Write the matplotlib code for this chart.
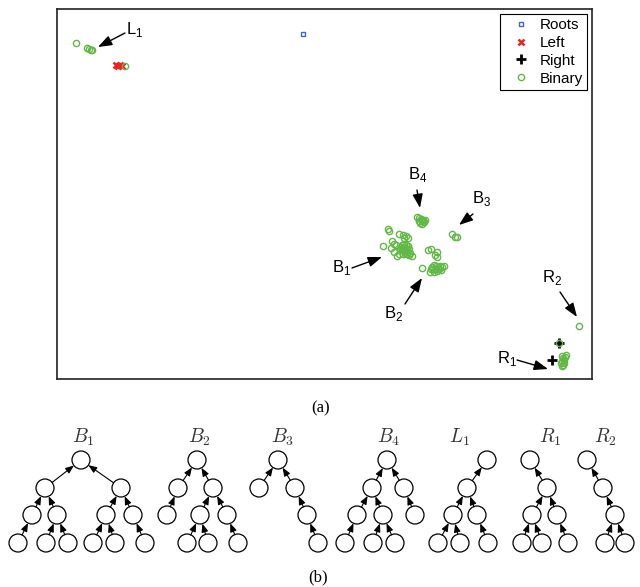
import matplotlib
matplotlib.use('Agg')
import matplotlib.pyplot as plt
from matplotlib.patches import Circle, FancyArrowPatch

plt.rcParams['font.family'] = ['Liberation Sans', 'DejaVu Sans']

# embedding coordinates (image pixel units)
roots_x = [303]
roots_y = [34]
left_x = [116, 118, 120, 122]
left_y = [65, 66, 65, 66]
right_x = [559, 552]
right_y = [343, 360]
binary_x = [76, 87, 89, 91, 92, 125,
            417, 419, 421, 422, 424, 420, 422, 423, 419, 425,
            452, 455, 457,
            388, 389, 399, 403, 406, 408, 404, 383, 392, 394, 396, 391, 394, 399, 397, 412, 410,
            402, 404, 406, 408, 403, 405, 407, 409, 404, 406, 408, 402, 405, 407, 403, 409, 401, 400,
            428, 431, 437, 437, 435, 422, 430, 432, 434, 436, 438, 440, 442, 444, 433, 436, 439, 441, 434, 437, 431,
            579, 559,
            562, 563, 562, 561, 563, 564, 565, 566, 564, 562]
binary_y = [43, 48, 49, 50, 50, 66,
            217, 218, 219, 221, 222, 223, 224, 220, 221, 220,
            234, 237, 237,
            229, 231, 234, 235, 236, 238, 238, 246, 241, 244, 245, 248, 252, 254, 256, 256, 253,
            245, 244, 245, 246, 248, 248, 249, 249, 251, 251, 252, 250, 253, 254, 254, 255, 247, 249,
            250, 249, 252, 257, 255, 268, 272, 267, 265, 266, 267, 266, 267, 266, 269, 269, 269, 270, 272, 271, 269,
            326, 343,
            356, 358, 361, 363, 365, 360, 357, 355, 363, 366]

# trees: node x, depth, parent index
tree_names = ['$B_1$', '$B_2$', '$B_3$', '$B_4$', '$L_1$', '$R_1$', '$R_2$']
tree_label_x = [83, 199, 282, 389, 460, 550, 605]
tree_x = [[81, 45, 121, 32, 57, 106, 133, 18, 46, 68, 93, 115, 145],
          [197, 178, 213, 167, 200, 227, 187, 208, 238],
          [278, 259, 295, 307, 318],
          [387, 372, 404, 357, 383, 415, 345, 373, 395],
          [487, 467, 453, 477, 438, 460, 488],
          [530, 547, 532, 557, 522, 542, 568],
          [587, 603, 615, 605, 625]]
tree_depth = [[0, 1, 1, 2, 2, 2, 2, 3, 3, 3, 3, 3, 3],
              [0, 1, 1, 2, 2, 2, 3, 3, 3],
              [0, 1, 1, 2, 3],
              [0, 1, 1, 2, 2, 2, 3, 3, 3],
              [0, 1, 2, 2, 3, 3, 3],
              [0, 1, 2, 2, 3, 3, 3],
              [0, 1, 2, 3, 3]]
tree_parent = [[-1, 0, 0, 1, 1, 2, 2, 3, 4, 4, 5, 5, 6],
               [-1, 0, 0, 1, 2, 2, 4, 4, 5],
               [-1, 0, 0, 2, 3],
               [-1, 0, 0, 1, 1, 2, 3, 4, 4],
               [-1, 0, 1, 1, 2, 2, 3],
               [-1, 0, 1, 1, 2, 2, 3],
               [-1, 0, 1, 2, 2]]

green = '#62b846'

fig = plt.figure(figsize=(6.4, 5.87), dpi=100)

# (a) scatter of the embedding
ax = fig.add_axes([57 / 640, 1 - 379 / 587, 535 / 640, 370 / 587])
ax.plot(roots_x, roots_y, 's', mfc='none', mec='#4466bb', ms=3.5, mew=1.0, ls='none', label='Roots')
ax.plot(left_x, left_y, 'x', color='#ee2222', ms=5, mew=1.8, ls='none', label='Left')
ax.plot(right_x, right_y, '+', color='k', ms=7, mew=2.0, ls='none', label='Right')
ax.plot(binary_x, binary_y, 'o', mfc='none', mec=green, ms=4.5, mew=1.0, ls='none', label='Binary')
ax.set_xlim(57, 592)
ax.set_ylim(379, 9)
ax.set_xticks([])
ax.set_yticks([])
for s in ax.spines.values():
    s.set_linewidth(1.2)
    s.set_color('#222222')

leg = ax.legend(loc='upper right', fontsize=11, fancybox=False, edgecolor='k', framealpha=1,
                borderaxespad=0.3, borderpad=0.3, labelspacing=0.25, handletextpad=0.15,
                handlelength=2.15, numpoints=1)
leg.get_frame().set_linewidth(0.8)


def label_arrow(txt, sub, tx, ty, tail, tip):
    ax.text(tx, ty, txt + r'$_\mathregular{' + sub + '}$', fontsize=12, ha='left', va='baseline')
    ax.annotate('', xy=tip, xytext=tail,
                arrowprops=dict(arrowstyle='-|>,head_length=0.6,head_width=0.22', color='k',
                                lw=1, shrinkA=0, shrinkB=0, mutation_scale=14))


label_arrow('L', '1', 126, 34, (125, 33), (98, 47))
label_arrow('B', '4', 408, 179, (417, 190), (420, 208))
label_arrow('B', '3', 472, 203, (473, 214), (459, 225))
label_arrow('B', '1', 332, 272, (352, 268), (382, 257))
label_arrow('B', '2', 384, 318, (405, 304), (422, 278))
label_arrow('R', '2', 542, 282, (560, 292), (577, 317))
label_arrow('R', '1', 497, 363, (517, 360), (548, 369))

fig.text(321 / 640, 1 - 408 / 587, '(a)', family='Liberation Serif', fontsize=12, ha='center', va='center')

# (b) the trees
tax = fig.add_axes([0, 0, 1, 180 / 587])
tax.set_xlim(0, 640)
tax.set_ylim(587, 407)
tax.axis('off')
tax.patch.set_visible(False)

r = 9
level_y = [460, 488, 515, 543]
r_pt = r * 72 / 100
for name, lx, xs, ds, ps in zip(tree_names, tree_label_x, tree_x, tree_depth, tree_parent):
    for x, d, p in zip(xs, ds, ps):
        tax.add_patch(Circle((x, level_y[d]), r, fc='white', ec='k', lw=0.9))
        if p >= 0:
            tax.add_patch(FancyArrowPatch((x, level_y[d]), (xs[p], level_y[ds[p]]),
                                          arrowstyle='-|>,head_length=0.45,head_width=0.18',
                                          mutation_scale=11, color='k', lw=0.8,
                                          shrinkA=r_pt, shrinkB=r_pt))
    tax.text(lx, 443, name, math_fontfamily='cm', fontsize=14, color='#333333',
             ha='center', va='baseline')

fig.text(318 / 640, 1 - 577 / 587, '(b)', family='Liberation Serif', fontsize=12, ha='center', va='center')

fig.savefig('out.png', dpi=100)
